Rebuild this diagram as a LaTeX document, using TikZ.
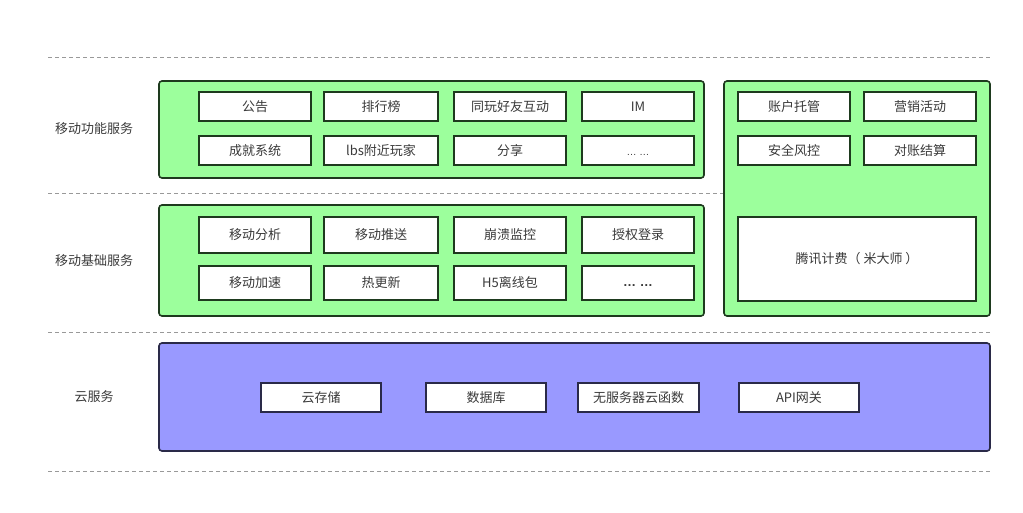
\documentclass[tikz,border=0pt]{standalone}
\usepackage{fontspec}
\newfontfamily\cjk{Noto Sans CJK SC}
\newfontfamily\lat{Liberation Sans}
\definecolor{gfill}{HTML}{9CFF9C}
\definecolor{gline}{HTML}{1E3A1E}
\definecolor{bfill}{HTML}{9999FF}
\definecolor{bline}{HTML}{2A2A48}
\definecolor{txt}{HTML}{3A3A3A}
\definecolor{dash}{HTML}{999999}
\tikzset{
  sep/.style={draw=dash, line width=1pt, dash pattern=on 4pt off 3pt},
  gpanel/.style={draw=gline, fill=gfill, line width=1.6pt, rounded corners=3pt},
  bpanel/.style={draw=bline, fill=bfill, line width=1.6pt, rounded corners=3pt},
  item/.style={draw=gline, fill=white, line width=1.6pt, text=txt, font=\cjk\fontsize{13}{15}\selectfont, inner sep=0pt},
  bitem/.style={item, draw=bline},
  lab/.style={text=txt, font=\cjk\fontsize{13}{15}\selectfont}
}
\newcommand{\boxat}[6]{% style, name, x1, y1, x2, y2, then the text
  \node[#1, minimum width=#5-#3, minimum height=#6-#4] (#2) at ({(#3+#5)/2},{(#4+#6)/2})}
\begin{document}
\begin{tikzpicture}[x=1pt,y=-1pt]
\useasboundingbox (0,0) rectangle (1023,513);
\coordinate (d1a) at (48,58);  \coordinate (d1b) at (990,58);
\coordinate (d2a) at (48,194); \coordinate (d2b) at (724,194);
\coordinate (d3a) at (48,332); \coordinate (d3b) at (990,332);
\coordinate (d4a) at (48,471); \coordinate (d4b) at (990,471);
\draw[sep] (d1a) -- (d1b);
\draw[sep] (d2a) -- (d2b);
\draw[sep] (d3a) -- (d3b);
\draw[sep] (d4a) -- (d4b);
% panels
\draw[gpanel] (159,81) rectangle (704,178);
\draw[gpanel] (159,205) rectangle (704,316);
\draw[gpanel] (724,81) rectangle (990,316);
\draw[bpanel] (159,343) rectangle (990,451);
% labels
\node[lab] (l1) at (94,129) {移动功能服务};
\node[lab] (l2) at (94,261) {移动基础服务};
\node[lab] (l3) at (94,397) {云服务};
% row 1
\boxat{item}{a1}{199}{92}{311}{121} {公告};
\boxat{item}{a2}{324}{92}{438}{121} {排行榜};
\boxat{item}{a3}{454}{92}{566}{121} {同玩好友互动};
\boxat{item}{a4}{582}{92}{694}{121} {IM};
% row 2
\boxat{item}{b1}{199}{136}{311}{165} {成就系统};
\boxat{item}{b2}{324}{136}{438}{165} {lbs附近玩家};
\boxat{item}{b3}{454}{136}{566}{165} {分享};
\boxat{item}{b4}{582}{136}{694}{165} {\raisebox{-5pt}[0pt][0pt]{\lat\fontsize{10}{12}\selectfont … …}};
% row 3
\boxat{item}{c1}{199}{217}{311}{253} {移动分析};
\boxat{item}{c2}{324}{217}{438}{253} {移动推送};
\boxat{item}{c3}{454}{217}{566}{253} {崩溃监控};
\boxat{item}{c4}{582}{217}{694}{253} {授权登录};
% row 4
\boxat{item}{e1}{199}{266}{311}{300} {移动加速};
\boxat{item}{e2}{324}{266}{438}{300} {热更新};
\boxat{item}{e3}{454}{266}{566}{300} {H5离线包};
\boxat{item}{e4}{582}{266}{694}{300} {\raisebox{-4pt}[0pt][0pt]{\lat\bfseries … …}};
% right
\boxat{item}{r1}{738}{92}{850}{121} {账户托管};
\boxat{item}{r2}{864}{92}{976}{121} {营销活动};
\boxat{item}{r3}{738}{136}{850}{165} {安全风控};
\boxat{item}{r4}{864}{136}{976}{165} {对账结算};
\boxat{item}{r5}{738}{217}{976}{301} {腾讯计费（ 米大师 ）};
% cloud
\boxat{bitem}{s1}{261}{383}{381}{412} {云存储};
\boxat{bitem}{s2}{426}{383}{546}{412} {数据库};
\boxat{bitem}{s3}{578}{383}{699}{412} {无服务器云函数};
\boxat{bitem}{s4}{739}{383}{859}{412} {API网关};
\end{tikzpicture}
\end{document}
